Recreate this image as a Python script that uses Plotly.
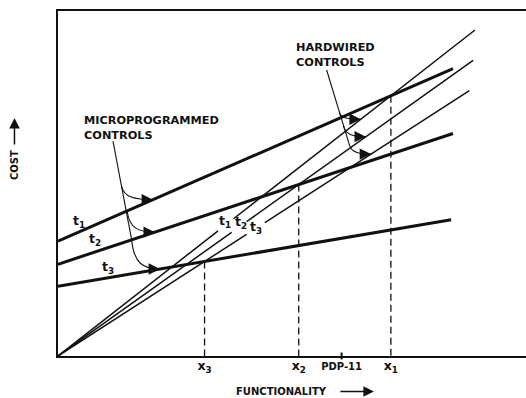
import plotly.graph_objects as go

# ---------------- data (arbitrary units: functionality 0-100, cost 0-100) ----------------
labels_t = ["t<sub>1</sub>", "t<sub>2</sub>", "t<sub>3</sub>"]

# microprogrammed controls (thick lines): start at x=0, end at x_end
micro_y_start = [33.3, 26.6, 20.2]
micro_x_end = [84.4, 84.4, 84.0]
micro_y_end = [83.3, 64.5, 39.5]

# hardwired controls (thin lines from the origin)
hw_x_end = [89.1, 88.7, 87.9]
hw_y_end = [94.5, 85.7, 76.9]
# x-ranges where each hardwired line is interrupted by its label
hw_gap = [(34.2, 37.5), (37.1, 40.3), (40.3, 44.2)]

pdp11_x = 60.6
tick_names = ["x<sub>1</sub>", "x<sub>2</sub>", "x<sub>3</sub>"]

# label positions (data units)
micro_label_xy = [(4.5, 39.0), (8.0, 33.9), (10.7, 25.7)]
hw_label_xy = [(35.6, 39.1), (39.1, 38.7), (42.4, 37.2)]

# callouts: stem top, stem points where branches leave, arrow-tip x positions
micro_stem_top = (11.75, 62.3)
micro_branch_start = [(13.6, 49.1), (14.8, 41.8), (15.75, 33.6)]
micro_tip_x = [20.3, 20.7, 21.8]
hw_stem_top = (57.4, 82.9)
hw_branch_start = [(60.1, 70.5), (61.0, 66.7), (62.2, 61.5)]
hw_tip_x = [64.7, 65.8, 66.9]

FONT = "DejaVu Sans"
BLACK = "#111111"


def micro_y(i, x):
    return micro_y_start[i] + (micro_y_end[i] - micro_y_start[i]) * x / micro_x_end[i]


def hw_y(i, x):
    return hw_y_end[i] * x / hw_x_end[i]


def intersect(i):
    m_h = hw_y_end[i] / hw_x_end[i]
    m_m = (micro_y_end[i] - micro_y_start[i]) / micro_x_end[i]
    x = micro_y_start[i] / (m_h - m_m)
    return x, m_h * x


fig = go.Figure()

# micro lines
for i in range(3):
    fig.add_trace(go.Scatter(
        x=[0, micro_x_end[i]], y=[micro_y_start[i], micro_y_end[i]],
        mode="lines", line=dict(color=BLACK, width=3), hoverinfo="skip"))

# hardwired lines, broken at their labels
for i in range(3):
    g0, g1 = hw_gap[i]
    xs = [0, g0, None, g1, hw_x_end[i]]
    ys = [0, hw_y(i, g0), None, hw_y(i, g1), hw_y_end[i]]
    fig.add_trace(go.Scatter(x=xs, y=ys, mode="lines",
                             line=dict(color=BLACK, width=1.5), hoverinfo="skip"))

# dashed drop lines at break-even points
xs_break = []
for i in range(3):
    xi, yi = intersect(i)
    xs_break.append(xi)
    fig.add_trace(go.Scatter(x=[xi, xi], y=[yi, 0], mode="lines",
                             line=dict(color=BLACK, width=1.3, dash="7px,4px"),
                             hoverinfo="skip"))

shapes = []
annotations = []


def branch_path(s, t):
    sx, sy = s
    tx, ty = t
    dy = sy - ty
    dx = tx - sx
    c1 = (sx + 0.08 * dx, sy - 0.8 * dy)
    c2 = (sx + 0.4 * dx, ty)
    return f"M {sx},{sy} C {c1[0]},{c1[1]} {c2[0]},{c2[1]} {tx},{ty}"


def callout(top, starts, tips):
    # stem
    shapes.append(dict(type="path", xref="x", yref="y",
                       path=f"M {top[0]},{top[1]} L {starts[-1][0]},{starts[-1][1]}",
                       line=dict(color=BLACK, width=1.1)))
    for s, t in zip(starts, tips):
        shapes.append(dict(type="path", xref="x", yref="y", path=branch_path(s, t),
                           line=dict(color=BLACK, width=1.1)))
        annotations.append(dict(x=t[0], y=t[1], xref="x", yref="y", text="",
                                showarrow=True, ax=-9, ay=0, arrowhead=2,
                                arrowsize=1.9, arrowwidth=1.2, arrowcolor=BLACK,
                                standoff=0))


callout(micro_stem_top, micro_branch_start,
        [(x, micro_y(i, x)) for i, x in enumerate(micro_tip_x)])
callout(hw_stem_top, hw_branch_start,
        [(x, hw_y(i, x)) for i, x in enumerate(hw_tip_x)])

# PDP-11 tick crossing the axis
shapes.append(dict(type="line", xref="x", yref="paper", x0=pdp11_x, x1=pdp11_x,
                   y0=-0.01, y1=0.01, line=dict(color=BLACK, width=2)))

# t labels
for (x, y), t in zip(micro_label_xy, labels_t):
    annotations.append(dict(x=x, y=y, xref="x", yref="y", text=t, showarrow=False,
                            font=dict(family=FONT, size=12.5, color=BLACK, weight="bold")))
for (x, y), t in zip(hw_label_xy, labels_t):
    annotations.append(dict(x=x, y=y, xref="x", yref="y", text=t, showarrow=False,
                            font=dict(family=FONT, size=12.5, color=BLACK, weight="bold")))

# callout texts
annotations.append(dict(x=5.1, y=66.2, xref="x", yref="y", xanchor="left",
                        yanchor="middle", align="left", showarrow=False,
                        text="MICROPROGRAMMED<br>CONTROLS",
                        font=dict(family=FONT, size=11.3, color=BLACK, weight="bold")))
annotations.append(dict(x=50.4, y=87.2, xref="x", yref="y", xanchor="left",
                        yanchor="middle", align="left", showarrow=False,
                        text="HARDWIRED<br>CONTROLS",
                        font=dict(family=FONT, size=11.3, color=BLACK, weight="bold")))

# axis titles with arrows
annotations.append(dict(x=0.477, y=-0.103, xref="paper", yref="paper", text="FUNCTIONALITY",
                        showarrow=False, xanchor="center", yanchor="middle",
                        font=dict(family=FONT, size=10, color=BLACK, weight="bold")))
annotations.append(dict(x=0.675, y=-0.103, xref="paper", yref="paper", text="",
                        showarrow=True, ax=-35, ay=0, arrowhead=2, arrowsize=1.4,
                        arrowwidth=1.5, arrowcolor=BLACK, standoff=0))
annotations.append(dict(x=-0.093, y=0.555, xref="paper", yref="paper", text="COST",
                        textangle=-90, showarrow=False, xanchor="center", yanchor="middle",
                        font=dict(family=FONT, size=10, color=BLACK, weight="bold")))
annotations.append(dict(x=-0.093, y=0.69, xref="paper", yref="paper", text="",
                        showarrow=True, ax=0, ay=28, arrowhead=2, arrowsize=1.4,
                        arrowwidth=1.5, arrowcolor=BLACK, standoff=0))

tickvals = [xs_break[0], xs_break[1], pdp11_x, xs_break[2]]
ticktext = [f"<span style='font-size:12.5px'>{tick_names[0]}</span>",
            f"<span style='font-size:12.5px'>{tick_names[1]}</span>",
            "PDP-11",
            f"<span style='font-size:12.5px'>{tick_names[2]}</span>"]

fig.update_layout(
    width=526, height=398,
    margin=dict(l=58, r=0, t=11, b=42),
    paper_bgcolor="white", plot_bgcolor="white",
    showlegend=False,
    shapes=shapes, annotations=annotations,
    xaxis=dict(range=[0, 100], showgrid=False, zeroline=False, showline=True,
               linecolor=BLACK, linewidth=2, mirror=True, ticks="",
               tickvals=tickvals, ticktext=ticktext,
               tickfont=dict(family=FONT, size=10, color=BLACK, weight="bold"),
               fixedrange=True),
    yaxis=dict(range=[0, 100], showgrid=False, zeroline=False, showline=True,
               linecolor=BLACK, linewidth=2, showticklabels=False, ticks="",
               fixedrange=True),
)

fig.write_html("out.html", config={"displayModeBar": False},
               post_script="document.body.style.margin='0px';")
